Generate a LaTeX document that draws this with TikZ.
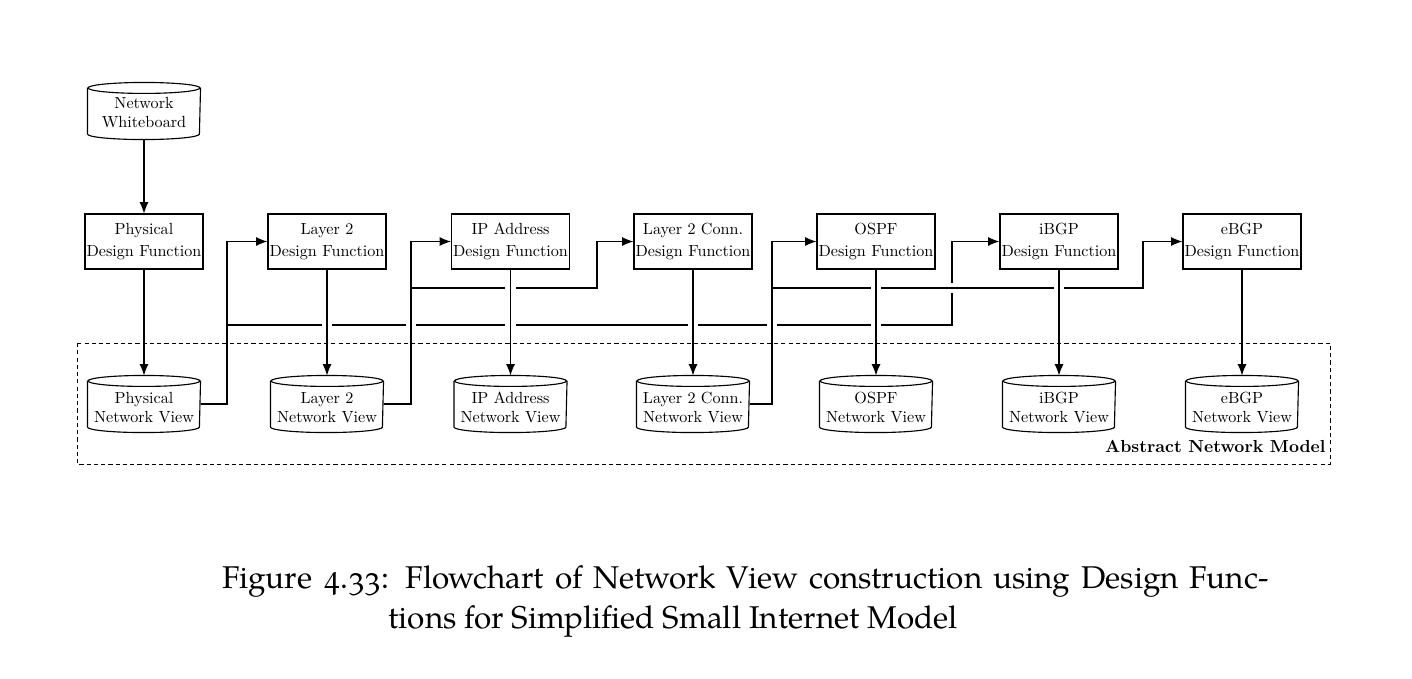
\documentclass[tikz,border=0pt]{standalone}
\usepackage{fontspec}
\newfontfamily\capfont{texgyrepagella}[Extension=.otf,UprightFont=*-regular,Numbers=OldStyle]
\usetikzlibrary{arrows.meta}
\newcommand\dbtxt[3]{\raisebox{-#1}[\height][\depth]{\begin{tabular}{@{}c@{}}#2\\#3\end{tabular}}}
\begin{document}
\begin{tikzpicture}[x=0.62pt,y=-0.62pt, line width=0.7pt,
  df/.style={draw, rectangle, minimum width=73.2pt, minimum height=34.1pt,
    inner xsep=0.3pt, inner ysep=0pt, align=center, font=\fontsize{10}{14}\selectfont},
  db/.style={rectangle, minimum width=69.4pt, minimum height=34.7pt, inner sep=0pt,
    font=\fontsize{10}{12}\selectfont,
    append after command={\pgfextra{%
      \draw[line width=0.7pt] ([yshift=-3.4pt]\tikzlastnode.north) ellipse [x radius=34.7pt, y radius=3.4pt];
      \draw[line width=0.7pt] ([yshift=-3.4pt]\tikzlastnode.north west) -- ([yshift=3.4pt]\tikzlastnode.south west)
        arc [start angle=180, end angle=360, x radius=34.7pt, y radius=3.4pt]
        -- ([yshift=-3.4pt]\tikzlastnode.north east);}}},
  conn/.style={-{Latex[length=7pt,width=5.6pt]},
    preaction={draw=white, line width=6.3pt, arrows=-, shorten <=4pt, shorten >=9pt}},
  frame/.style={draw, dash pattern=on 2.6pt off 1.9pt, line width=0.55pt}
]
\useasboundingbox (0,0) rectangle (1412,678);

\node[db] (wb) at (144,111) {\dbtxt{2pt}{Network}{Whiteboard}};

\node[df] (pdf)  at (144,241.5)  {Physical\\Design Function};
\node[df] (l2df) at (327,241.5)  {Layer 2\\Design Function};
\node[df] (ipdf) at (510.5,241.5){IP Address\\Design Function};
\node[df] (lcdf) at (693,241.5)  {Layer 2 Conn.\\Design Function};
\node[df] (odf)  at (876,241.5)  {OSPF\\Design Function};
\node[df] (idf)  at (1059,241.5) {iBGP\\Design Function};
\node[df] (edf)  at (1242,241.5) {eBGP\\Design Function};

\node[db] (pnv)  at (144,404)  {\dbtxt{3.3pt}{Physical}{Network View}};
\node[db] (l2nv) at (327,404)  {\dbtxt{3.3pt}{Layer 2}{Network View}};
\node[db] (ipnv) at (510.5,404){\dbtxt{3.3pt}{IP Address}{Network View}};
\node[db] (lcnv) at (693,404)  {\dbtxt{3.3pt}{Layer 2 Conn.}{Network View}};
\node[db] (onv)  at (876,404)  {\dbtxt{3.3pt}{OSPF}{Network View}};
\node[db] (inv)  at (1059,404) {\dbtxt{3.3pt}{iBGP}{Network View}};
\node[db] (env)  at (1242,404) {\dbtxt{3.3pt}{eBGP}{Network View}};

\coordinate (j1) at (227,325);
\coordinate (k1) at (952,325);
\coordinate (j2) at (411,288);
\coordinate (k2) at (597,288);
\coordinate (j3) at (772,288);
\coordinate (k3) at (1143,288);

\draw[conn] (pnv.east) -| (j1) |- (l2df.west);
\draw[conn] (j1) -- (k1) |- (idf.west);
\draw[conn] (l2nv.east) -| (j2) |- (ipdf.west);
\draw[conn] (j2) -- (k2) |- (lcdf.west);
\draw[conn] (lcnv.east) -| (j3) |- (odf.west);
\draw[conn] (j3) -- (k3) |- (edf.west);

\draw[conn] (wb.south) -- (pdf.north);
\draw[conn] (pdf.south) -- (pnv.north);
\draw[conn] (l2df.south) -- (l2nv.north);
\draw[conn] (ipdf.south) -- (ipnv.north);
\draw[conn] (lcdf.south) -- (lcnv.north);
\draw[conn] (odf.south) -- (onv.north);
\draw[conn] (idf.south) -- (inv.north);
\draw[conn] (edf.south) -- (env.north);

\draw[frame] (77,343) rectangle (1330,464);
\node[anchor=base east, font=\fontsize{10.8}{13}\selectfont\bfseries, inner sep=0pt] (anm) at (1326,452) {Abstract Network Model};

\node[anchor=base west, inner sep=0pt, font=\capfont\fontsize{19.5}{24}\selectfont] (cap1) at (222,588)
  {\makebox[648.5pt][s]{Figure 4.33: Flowchart of Network View construction using Design Func-}};
\node[anchor=base west, inner sep=0pt, font=\capfont\fontsize{19.5}{24}\selectfont] (cap2) at (388,628)
  {tions for Simplified Small Internet Model};
\end{tikzpicture}
\end{document}
